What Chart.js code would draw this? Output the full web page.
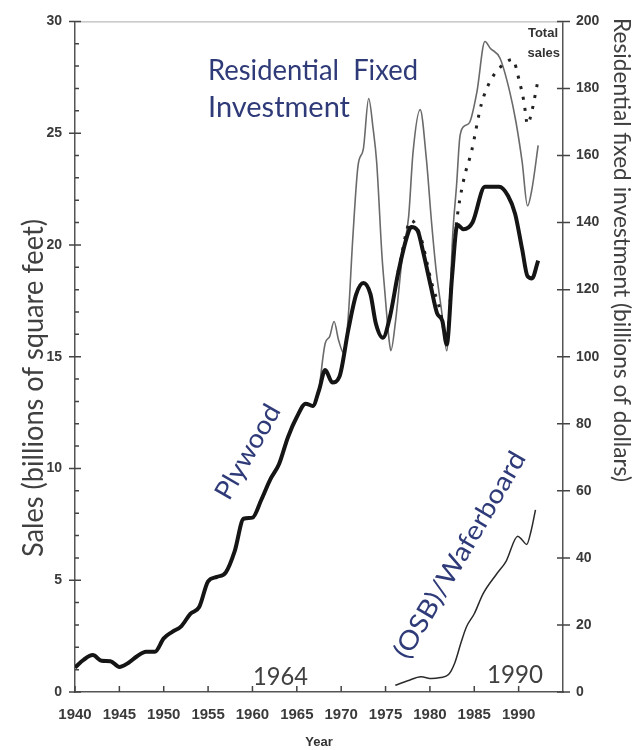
<!DOCTYPE html>
<html><head><meta charset="utf-8">
<script src="https://cdn.jsdelivr.net/npm/chart.js@4.4.1/dist/chart.umd.min.js"></script>
<style>html,body{margin:0;padding:0;background:#fff}#wrap{width:638px;height:750px;position:relative}</style>
</head><body><div id="wrap"><canvas id="c" width="638" height="750"></canvas></div>
<script>
// ---- data ----
const yearTicks = [1940,1945,1950,1955,1960,1965,1970,1975,1980,1985,1990];
const salesTicks = [0,5,10,15,20,25,30];
const investTicks = [0,20,40,60,80,100,120,140,160,180,200];

const plywoodYears = [1940,1941,1942,1943,1944,1945,1946,1947,1948,1949,1950,1951,1952,1953,1954,1955,1956,1957,1958,1959,1960,1961,1962,1963,1964,1965,1966,1966.8,1967.5,1968.2,1969,1969.8,1970.8,1971.7,1972.5,1973.3,1973.9,1974.7,1975.5,1976.4,1977.4,1977.9,1978.6,1979.2,1980.1,1980.8,1981.4,1981.9,1982.5,1983.1,1983.8,1984.8,1986.2,1987.8,1988.8,1989.6,1990.4,1991.0,1991.5,1992.2];
const plywoodSales = [1.1,1.45,1.65,1.4,1.38,1.12,1.3,1.6,1.8,1.8,2.4,2.7,2.95,3.5,3.8,4.95,5.15,5.35,6.3,7.75,7.8,8.6,9.5,10.2,11.4,12.3,12.9,12.8,13.5,14.4,13.85,14.1,16.2,17.8,18.3,17.8,16.5,15.85,16.8,18.7,20.35,20.8,20.65,19.75,18.15,16.95,16.6,15.55,18.6,20.9,20.7,21.0,22.6,22.6,22.2,21.4,19.8,18.6,18.5,19.3];

const totalYears = [1976.4,1977.9,1979.0,1980.2,1981.2,1981.9,1982.5,1983.0,1983.8,1984.7,1985.8,1986.9,1988.2,1989.3,1990.1,1990.6,1991.0,1991.5,1992.1];
const totalSales = [18.8,21.1,20.3,18.3,17.0,15.7,18.8,21.0,22.9,24.2,26.3,27.4,28.05,28.3,27.3,26.4,25.4,26.0,27.2];

const investYears = [1967.5,1968.2,1968.7,1969.2,1969.7,1970.3,1970.8,1971.3,1971.9,1972.5,1973.1,1973.6,1974.0,1974.6,1974.9,1975.4,1975.6,1976.1,1976.9,1977.6,1978.1,1978.9,1979.6,1980.2,1980.7,1981.3,1981.9,1982.6,1983.0,1983.4,1984.0,1984.5,1985.3,1986.2,1986.8,1987.9,1989.0,1989.7,1990.4,1991.0,1991.5,1992.2];
const investValues = [90,104,106,110.5,105,101,112,135,157,162,177,168,158,130,120,105,101.8,110,130,141.7,161,173.7,159,139.6,125.8,114,101.8,137.7,151,166,169,170,179,194,192,189,179,170,158,145,150,163];

const osbYears = [1976.1,1977.5,1979.0,1980.2,1981.2,1982.1,1982.8,1983.5,1984.1,1985.0,1986.0,1987.5,1988.6,1989.9,1990.4,1990.9,1991.4,1991.9];
const osbSales = [0.3,0.5,0.68,0.6,0.65,0.78,1.3,2.2,2.9,3.5,4.4,5.27,5.86,6.97,6.8,6.6,7.2,8.15];

const pts = (xs, ys) => xs.map((x, i) => ({x, y: ys[i]}));

const BLUE = '#2f3a78', GRAY = '#404040', TICK = '#3a3a3a';
const TITLE_FONT = 'Lato, "Open Sans", sans-serif';

function txt(ctx, s, x, y, o) {
  ctx.save();
  ctx.translate(x, y);
  if (o.rot) ctx.rotate(o.rot * Math.PI / 180);
  ctx.font = (o.weight || 'normal') + ' ' + o.size + 'px ' + (o.family || TITLE_FONT);
  const w = ctx.measureText(s).width;
  if (o.width) ctx.scale(o.width / w, 1);
  ctx.fillStyle = o.color || GRAY;
  ctx.textAlign = o.align || 'center';
  ctx.textBaseline = o.base || 'middle';
  ctx.fillText(s, 0, 0);
  ctx.restore();
}

const decor = {
  id: 'decor',
  afterDraw(chart) {
    const ctx = chart.ctx, a = chart.chartArea;
    const xs = chart.scales.x, ys = chart.scales.y, y2 = chart.scales.y2;
    ctx.save();
    ctx.strokeStyle = '#aaa'; ctx.lineWidth = 1;
    ctx.beginPath(); ctx.moveTo(a.left, a.top + 0.5); ctx.lineTo(a.right, a.top + 0.5); ctx.stroke();
    ctx.strokeStyle = '#444'; ctx.lineWidth = 1.5;
    ctx.beginPath();
    yearTicks.forEach(v => { const p = xs.getPixelForValue(v); ctx.moveTo(p, a.bottom); ctx.lineTo(p, a.bottom - 6); });
    salesTicks.forEach(v => { const p = ys.getPixelForValue(v); ctx.moveTo(a.left - 6, p); ctx.lineTo(a.left + 6, p); });
    for (let v = 0; v <= 30; v++) { if (v % 5) { const p = ys.getPixelForValue(v); ctx.moveTo(a.left, p); ctx.lineTo(a.left + 4, p); } }
    investTicks.forEach(v => { const p = y2.getPixelForValue(v); ctx.moveTo(a.right - 6, p); ctx.lineTo(a.right + 7, p); });
    ctx.stroke();
    ctx.restore();

    txt(ctx, 'Residential  Fixed', 208, 80, {size: 28, color: BLUE, align: 'left', base: 'alphabetic', width: 210});
    txt(ctx, 'Investment', 208, 117, {size: 28, color: BLUE, align: 'left', base: 'alphabetic', width: 142});
    txt(ctx, 'Plywood', 248, 452, {size: 26, color: BLUE, rot: -60, width: 105});
    txt(ctx, '(OSB)/Waferboard', 460, 555, {size: 26, color: BLUE, rot: -59.6, width: 235});
    txt(ctx, '1964', 253, 685, {size: 25, color: GRAY, align: 'left', base: 'alphabetic', width: 55});
    txt(ctx, '1990', 487, 683, {size: 25, color: GRAY, align: 'left', base: 'alphabetic', width: 56});
    txt(ctx, 'Sales (billions of square feet)', 34, 388, {size: 28, color: GRAY, rot: -90, width: 338});
    txt(ctx, 'Residential fixed investment (billions of dollars)', 622, 250, {size: 24, color: GRAY, rot: 90, width: 464});
    txt(ctx, 'Total', 558, 37, {size: 13, weight: 'bold', family: '"Liberation Sans", Arial, sans-serif', color: '#333', align: 'right', base: 'alphabetic'});
    txt(ctx, 'sales', 560, 57, {size: 13, weight: 'bold', family: '"Liberation Sans", Arial, sans-serif', color: '#333', align: 'right', base: 'alphabetic'});
    txt(ctx, 'Year', 319, 742, {size: 13, weight: 'bold', family: '"Liberation Sans", Arial, sans-serif', color: '#333'});
  }
};

const tickFont = {family: '"Liberation Sans", Arial, sans-serif', size: 14, weight: 'bold'};

new Chart(document.getElementById('c'), {
  type: 'line',
  data: {
    datasets: [
      {label: 'Plywood', data: pts(plywoodYears, plywoodSales), yAxisID: 'y', borderColor: '#151515', borderWidth: 4, order: 0},
      {label: 'Total sales', data: pts(totalYears, totalSales), yAxisID: 'y', borderColor: '#222', borderWidth: 3, borderDash: [3, 8], order: 1},
      {label: 'Residential fixed investment', data: pts(investYears, investValues), yAxisID: 'y2', borderColor: '#6a6a6a', borderWidth: 1.6, order: 2},
      {label: '(OSB)/Waferboard', data: pts(osbYears, osbSales), yAxisID: 'y', borderColor: '#2a2a2a', borderWidth: 1.5, order: 3}
    ]
  },
  options: {
    responsive: false,
    animation: false,
    devicePixelRatio: 1,
    layout: {padding: {top: 16, left: 0, right: 0, bottom: 0}},
    elements: {point: {radius: 0}, line: {cubicInterpolationMode: 'monotone', fill: false}},
    plugins: {legend: {display: false}, tooltip: {enabled: false}},
    scales: {
      x: {
        type: 'linear', position: 'bottom', min: 1940, max: 1995,
        grid: {display: false, drawTicks: false},
        border: {display: true, color: '#555', width: 1.5},
        ticks: {stepSize: 5, autoSkip: false, maxRotation: 0, padding: 14, color: TICK, font: {...tickFont, size: 15},
          callback: v => yearTicks.includes(v) ? String(v) : ''},
        afterFit: s => { s.height = 58; }
      },
      y: {
        type: 'linear', position: 'left', min: 0, max: 30,
        grid: {display: false, drawTicks: false},
        border: {display: true, color: '#555', width: 1.5},
        ticks: {stepSize: 5, padding: 13, color: TICK, font: tickFont,
          callback: v => salesTicks.includes(v) ? String(v) : ''},
        afterFit: s => { s.width = 75; }
      },
      y2: {
        type: 'linear', position: 'right', min: 0, max: 200,
        grid: {display: false, drawTicks: false},
        border: {display: true, color: '#555', width: 1.5},
        ticks: {stepSize: 20, padding: 13, color: TICK, font: tickFont,
          callback: v => investTicks.includes(v) ? String(v) : ''},
        afterFit: s => { s.width = 75; }
      }
    }
  },
  plugins: [decor]
});
</script></body></html>
